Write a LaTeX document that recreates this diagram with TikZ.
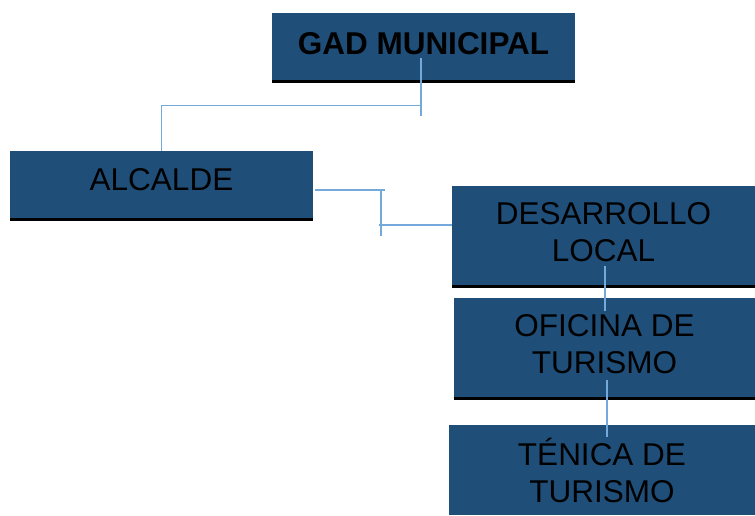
\documentclass[tikz,border=0pt]{standalone}
\usepackage{fontspec}
\setmainfont{Liberation Sans}
\definecolor{boxblue}{HTML}{1F4E79}
\definecolor{linkblue}{HTML}{74A9DC}

\begin{document}
\begin{tikzpicture}[x=1pt, y=-1pt,
    b/.style={fill=boxblue, anchor=north west, inner sep=0pt, outer sep=0pt, align=center, text depth=7pt, font=\fontsize{31.5}{37}\selectfont},
    link/.style={draw=linkblue, line width=1.3pt},
    bar/.style={line width=3pt}]
            \useasboundingbox (0,0) rectangle (755,515);

            \node[b, minimum width=303pt, minimum height=67pt, font=\fontsize{31.5}{37}\selectfont\bfseries] (gad) at (272,13) {GAD MUNICIPAL};
            \node[b, minimum width=303pt, minimum height=67pt, text depth=10pt] (alc) at (10,151) {ALCALDE};
            \node[b, minimum width=303pt, minimum height=99pt] (des) at (452,186) {DESARROLLO\\LOCAL};
            \node[b, minimum width=301pt, minimum height=99pt] (ofi) at (454,298) {OFICINA DE\\TURISMO};
            \node[b, minimum width=306pt, minimum height=90pt, text depth=0pt] (ten) at (449,425) {TÉNICA DE\\TURISMO};

            \foreach \n in {gad, alc, des, ofi}
                \draw[bar] ([yshift=-1.5pt]\n.south west) -- ([yshift=-1.5pt]\n.south east);

            \coordinate (g1) at (421,58);
            \coordinate (g2) at (421,116);
            \coordinate (g3) at (421,105.5);
            \coordinate (a1) at (315,190);
            \coordinate (a2) at (385,190);
            \coordinate (a3) at (381,189);
            \coordinate (a4) at (381,236);
            \coordinate (a5) at (379,225);
            \coordinate (d1) at (605,266);
            \coordinate (d2) at (605,311);
            \coordinate (o1) at (607,380);
            \coordinate (o2) at (607,437);

            \draw[link] (g1) -- (g2);
            \draw[link] (g3) -| (alc.north);
            \draw[link] (a1) -- (a2);
            \draw[link] (a3) -- (a4);
            \draw[link] (a5) -- (a5 -| des.west);
            \draw[link] (d1) -- (d2);
            \draw[link] (o1) -- (o2);
        \end{tikzpicture}
\end{document}
